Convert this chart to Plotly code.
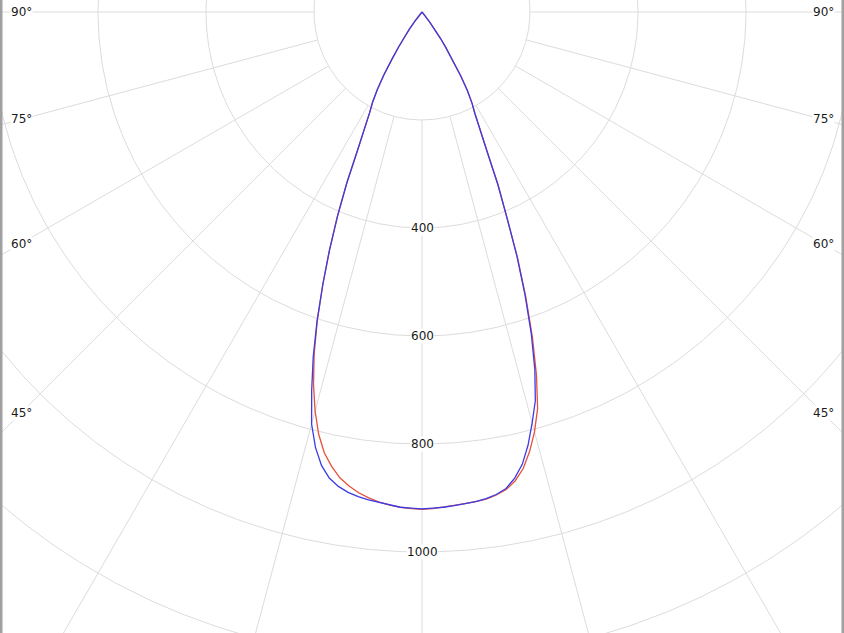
import numpy as np
import plotly.graph_objects as go

# gamma angles (deg), negative = left half of the diagram
gamma = [-40, -38.75, -37.5, -36.25, -35, -33.75, -32.5, -31.25, -30, -28.75,
         -27.5, -26.25, -25, -23.75, -22.5, -21.25, -20, -18.75, -17.5, -16.25,
         -15, -13.75, -12.5, -11.25, -10, -8.75, -7.5, -6.25, -5, -3.75, -2.5,
         -1.25, 0, 1.25, 2.5, 3.75, 5, 6.25, 7.5, 8.75, 10, 11.25, 12.5, 13.75,
         15, 16.25, 17.5, 18.75, 20, 21.25, 22.5, 23.75, 25, 26.25, 27.5,
         28.75, 30, 31.25, 32.5, 33.75, 35, 36.25, 37.5, 38.75, 40]

# luminous intensity (cd/klm) for the two planes
red_plane = [0, 8, 22, 40, 58, 78, 103, 135, 165, 190,
             210, 238, 282, 346, 410, 473, 537, 603, 664, 718,
             765, 805, 836, 858, 876, 888, 898, 905, 911, 915, 918,
             920, 921, 920, 918, 916, 914, 912, 910, 905, 898, 885, 866, 838,
             805, 765, 705, 636, 562, 488, 412, 350, 287, 241, 213,
             193, 168, 138, 106, 80, 60, 42, 24, 9, 0]
blue_plane = [0, 8, 22, 40, 58, 78, 103, 135, 165, 190,
              210, 238, 282, 345, 408, 472, 537, 605, 670, 730,
              790, 830, 860, 880, 892, 900, 905, 909, 912, 915, 918,
              919, 920, 919, 918, 916, 914, 912, 909, 904, 896, 880, 858, 826,
              788, 750, 695, 630, 558, 485, 410, 348, 285, 240, 212,
              192, 168, 138, 106, 80, 60, 42, 24, 9, 0]

ring_values = [200, 400, 600, 800, 1000, 1200, 1400]
ring_labels = [400, 600, 800, 1000, 1200]
spoke_angles = [-90, -75, -60, -45, -30, -15, 0, 15, 30, 45, 60, 75, 90]
angle_labels = [90, 75, 60, 45]

W, H = 844, 633
px_per_unit = 108 / 200.0
cx, cy = 422, 12  # pixel position of the pole


def to_xy(r, g):
    g = np.radians(np.asarray(g, dtype=float))
    r = np.asarray(r, dtype=float)
    return r * np.sin(g), -r * np.cos(g)


fig = go.Figure()

grid = dict(color="#dcdcdc", width=1)

# rings
t = np.linspace(-180, 180, 721)
for rv in ring_values:
    x, y = to_xy(np.full_like(t, rv), t)
    fig.add_trace(go.Scatter(x=x, y=y, mode="lines", line=grid,
                             hoverinfo="skip", showlegend=False))

# spokes, starting at the first ring
for a in spoke_angles:
    x, y = to_xy([ring_values[0], 1600], [a, a])
    fig.add_trace(go.Scatter(x=x, y=y, mode="lines", line=grid,
                             hoverinfo="skip", showlegend=False))

# curves
for vals, col, name in [(red_plane, "#e4523a", "C0-C180"),
                        (blue_plane, "#3b3be8", "C90-C270")]:
    x, y = to_xy(vals, gamma)
    fig.add_trace(go.Scatter(x=x, y=y, mode="lines", name=name,
                             line=dict(color=col, width=1.3),
                             showlegend=False))

lab_font = dict(family="DejaVu Sans", size=12, color="#1a1a1a")

for rv in ring_labels:
    fig.add_annotation(x=0, y=-rv, text=str(rv), showarrow=False,
                       font=lab_font, bgcolor="white", borderpad=0)

# angle labels sit on their spoke near the left / right border
edge = (cx - 21) / px_per_unit
for a in angle_labels:
    yy = -edge / np.tan(np.radians(a)) if a != 90 else 0
    for sx in (-1, 1):
        fig.add_annotation(x=sx * edge, y=yy, text=f"{a}°", showarrow=False,
                           font=lab_font, bgcolor="white", borderpad=0)

# thin grey frame on the left and right edges
for x0, x1 in [(0, 2.5 / W), (1 - 2.5 / W, 1)]:
    fig.add_shape(type="rect", xref="paper", yref="paper",
                  x0=x0, x1=x1, y0=0, y1=1,
                  fillcolor="#a0a0a0", line=dict(width=0))

x_half = cx / px_per_unit
fig.update_xaxes(range=[-x_half, x_half], visible=False, fixedrange=True)
fig.update_yaxes(range=[-(H - cy) / px_per_unit, cy / px_per_unit],
                 visible=False, fixedrange=True)

fig.update_layout(width=W, height=H, margin=dict(l=0, r=0, t=0, b=0),
                  plot_bgcolor="white", paper_bgcolor="white")

fig.write_html("out.html", config={"displayModeBar": False},
               post_script="document.body.style.margin='0px';")
